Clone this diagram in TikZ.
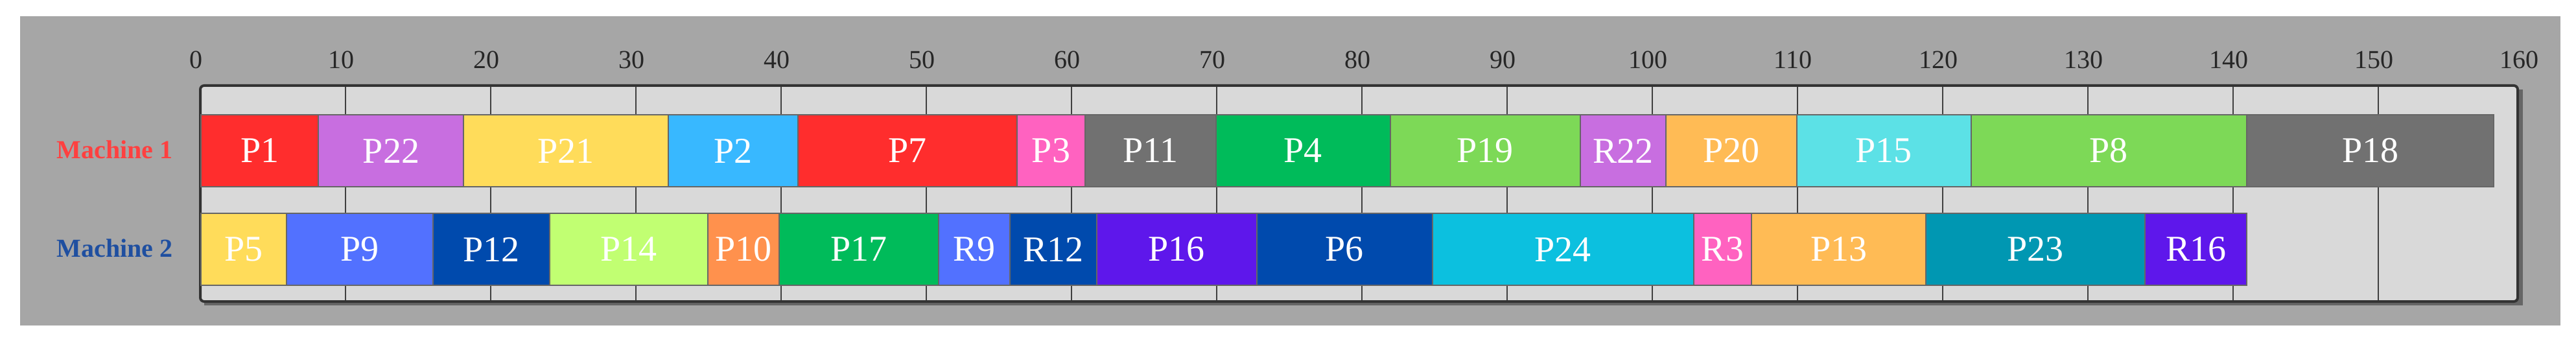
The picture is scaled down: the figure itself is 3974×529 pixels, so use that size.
\documentclass[tikz,border=0pt]{standalone}
\usepackage{fontspec}
\setmainfont{Liberation Serif}
\definecolor{bg}{HTML}{A6A6A6}
\definecolor{panel}{HTML}{D9D9D9}
\definecolor{cRed}{HTML}{FF2D2D}
\definecolor{cPurp}{HTML}{C86EE0}
\definecolor{cYel}{HTML}{FFDC5A}
\definecolor{cSky}{HTML}{38B8FF}
\definecolor{cPink}{HTML}{FF62C0}
\definecolor{cGray}{HTML}{717171}
\definecolor{cGreen}{HTML}{00BB5A}
\definecolor{cLime}{HTML}{7DD957}
\definecolor{cOrg}{HTML}{FFBB55}
\definecolor{cCyan}{HTML}{5CE1E6}
\definecolor{cBlue}{HTML}{5271FF}
\definecolor{cNavy}{HTML}{004AAD}
\definecolor{cLgreen}{HTML}{C1FF72}
\definecolor{cOrange}{HTML}{FF914D}
\definecolor{cViolet}{HTML}{5E17EB}
\definecolor{cTurq}{HTML}{0CC0DF}
\definecolor{cTeal}{HTML}{0097B2}
\definecolor{mOne}{HTML}{FF4040}
\definecolor{mTwo}{HTML}{1F4FA0}
\begin{document}
\begin{tikzpicture}[x=1pt,y=-1pt,
  job/.style={draw=black!60,line width=2pt,text=white,font=\fontsize{56}{56}\selectfont,inner sep=0pt,anchor=north west},
  tick/.style={font=\fontsize{40}{40}\selectfont,text=black!85},
  mach/.style={font=\bfseries\fontsize{40}{40}\selectfont}]
\useasboundingbox (0,0) rectangle (3974,529);
\fill[bg] (31,25) rectangle (3950,502);
\fill[black!60] (315,138) rectangle (3892,471);
\draw[black!80,line width=4pt,fill=panel,rounded corners=6pt] (309,132) rectangle (3884,465);
\foreach \t in {10,20,...,150}{
  \draw[black!75,line width=1.5pt] ({309+22.4*\t},134) -- ({309+22.4*\t},463);
}
\foreach \t in {0,10,...,160}{
  \node[tick] (t\t) at ({302+22.4*\t},92) {\t};
}
\node[mach,text=mOne,anchor=east] (m1) at (270,231) {Machine 1};
\node[mach,text=mTwo,anchor=east] (m2) at (270,383) {Machine 2};
\foreach \a/\b/\l/\c in {0/8.1/P1/cRed,8.1/18.1/P22/cPurp,18.1/32.2/P21/cYel,32.2/41.1/P2/cSky,41.1/56.2/P7/cRed,56.2/60.9/P3/cPink,60.9/69.9/P11/cGray,69.9/81.9/P4/cGreen,81.9/95/P19/cLime,95/100.9/R22/cPurp,100.9/109.9/P20/cOrg,109.9/121.9/P15/cCyan,121.9/140.9/P8/cLime,140.9/157.9/P18/cGray}{
  \node[job,fill=\c,minimum height=111pt,minimum width={22.4*(\b-\a)}] (a\l) at ({309+22.4*\a},176) {};
  \node[text=white,font=\fontsize{56}{56}\selectfont] (la\l) at (a\l.center) {\l};
}
\foreach \a/\b/\l/\c in {0/5.9/P5/cYel,5.9/16/P9/cBlue,16/24/P12/cNavy,24/34.9/P14/cLgreen,34.9/39.8/P10/cOrange,39.8/50.8/P17/cGreen,50.8/55.7/R9/cBlue,55.7/61.7/R12/cNavy,61.7/72.7/P16/cViolet,72.7/84.8/P6/cNavy,84.8/102.8/P24/cTurq,102.8/106.8/R3/cPink,106.8/118.8/P13/cOrg,118.8/133.9/P23/cTeal,133.9/140.9/R16/cViolet}{
  \node[job,fill=\c,minimum height=111pt,minimum width={22.4*(\b-\a)}] (b\l) at ({309+22.4*\a},328) {};
  \node[text=white,font=\fontsize{56}{56}\selectfont] (lb\l) at (b\l.center) {\l};
}
\end{tikzpicture}
\end{document}
